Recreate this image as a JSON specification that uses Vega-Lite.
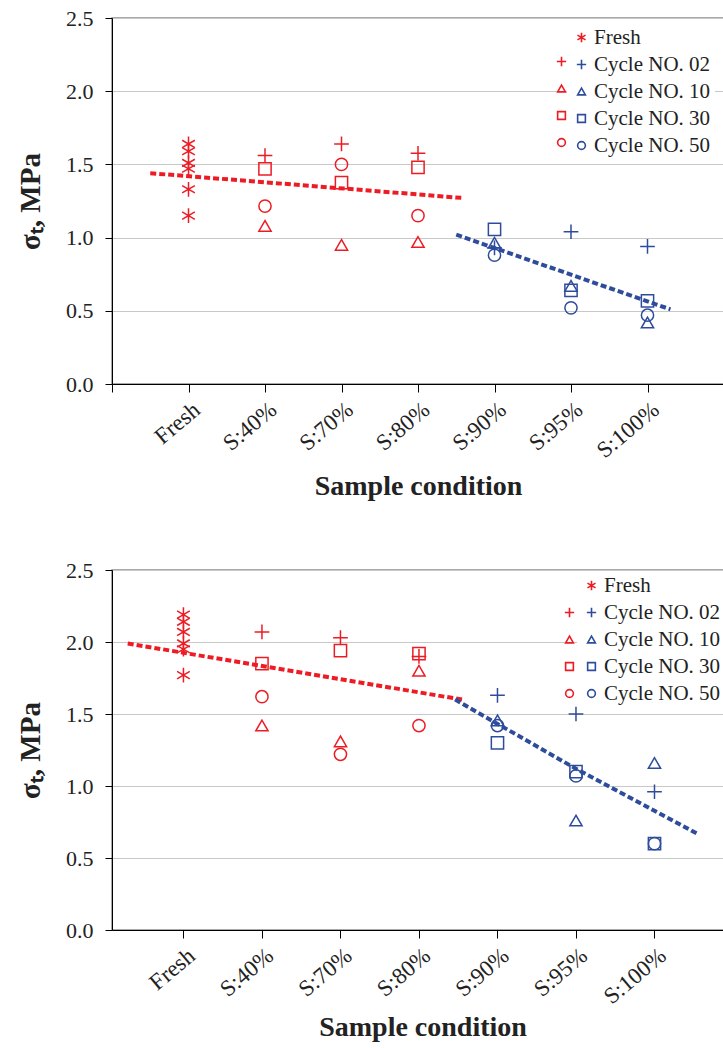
{
  "$schema": "https://vega.github.io/schema/vega-lite/v6.json",
  "padding": {"left": 15, "top": 6, "right": 0, "bottom": 0},
  "datasets": {
    "pts": [
      {"chart": "tuffeau", "group": "red", "idx": 1, "series": "Fresh", "value": 1.64},
      {"chart": "tuffeau", "group": "red", "idx": 1, "series": "Fresh", "value": 1.59},
      {"chart": "tuffeau", "group": "red", "idx": 1, "series": "Fresh", "value": 1.51},
      {"chart": "tuffeau", "group": "red", "idx": 1, "series": "Fresh", "value": 1.47},
      {"chart": "tuffeau", "group": "red", "idx": 1, "series": "Fresh", "value": 1.33},
      {"chart": "tuffeau", "group": "red", "idx": 1, "series": "Fresh", "value": 1.15},
      {"chart": "tuffeau", "group": "red", "idx": 2, "series": "Cycle NO. 02", "value": 1.56},
      {"chart": "tuffeau", "group": "red", "idx": 2, "series": "Cycle NO. 10", "value": 1.08},
      {"chart": "tuffeau", "group": "red", "idx": 2, "series": "Cycle NO. 30", "value": 1.47},
      {"chart": "tuffeau", "group": "red", "idx": 2, "series": "Cycle NO. 50", "value": 1.215},
      {"chart": "tuffeau", "group": "red", "idx": 3, "series": "Cycle NO. 02", "value": 1.64},
      {"chart": "tuffeau", "group": "red", "idx": 3, "series": "Cycle NO. 10", "value": 0.95},
      {"chart": "tuffeau", "group": "red", "idx": 3, "series": "Cycle NO. 30", "value": 1.375},
      {"chart": "tuffeau", "group": "red", "idx": 3, "series": "Cycle NO. 50", "value": 1.5},
      {"chart": "tuffeau", "group": "red", "idx": 4, "series": "Cycle NO. 02", "value": 1.576},
      {"chart": "tuffeau", "group": "red", "idx": 4, "series": "Cycle NO. 10", "value": 0.97},
      {"chart": "tuffeau", "group": "red", "idx": 4, "series": "Cycle NO. 30", "value": 1.48},
      {"chart": "tuffeau", "group": "red", "idx": 4, "series": "Cycle NO. 50", "value": 1.15},
      {"chart": "tuffeau", "group": "blue", "idx": 5, "series": "Cycle NO. 02", "value": 0.93},
      {"chart": "tuffeau", "group": "blue", "idx": 5, "series": "Cycle NO. 10", "value": 0.965},
      {"chart": "tuffeau", "group": "blue", "idx": 5, "series": "Cycle NO. 30", "value": 1.057},
      {"chart": "tuffeau", "group": "blue", "idx": 5, "series": "Cycle NO. 50", "value": 0.88},
      {"chart": "tuffeau", "group": "blue", "idx": 6, "series": "Cycle NO. 02", "value": 1.04},
      {"chart": "tuffeau", "group": "blue", "idx": 6, "series": "Cycle NO. 10", "value": 0.67},
      {"chart": "tuffeau", "group": "blue", "idx": 6, "series": "Cycle NO. 30", "value": 0.64},
      {"chart": "tuffeau", "group": "blue", "idx": 6, "series": "Cycle NO. 50", "value": 0.52},
      {"chart": "tuffeau", "group": "blue", "idx": 7, "series": "Cycle NO. 02", "value": 0.94},
      {"chart": "tuffeau", "group": "blue", "idx": 7, "series": "Cycle NO. 10", "value": 0.42},
      {"chart": "tuffeau", "group": "blue", "idx": 7, "series": "Cycle NO. 30", "value": 0.567},
      {"chart": "tuffeau", "group": "blue", "idx": 7, "series": "Cycle NO. 50", "value": 0.47},
      {"chart": "Richemon", "group": "red", "idx": 1, "series": "Fresh", "value": 2.19},
      {"chart": "Richemon", "group": "red", "idx": 1, "series": "Fresh", "value": 2.14},
      {"chart": "Richemon", "group": "red", "idx": 1, "series": "Fresh", "value": 2.07},
      {"chart": "Richemon", "group": "red", "idx": 1, "series": "Fresh", "value": 1.99},
      {"chart": "Richemon", "group": "red", "idx": 1, "series": "Fresh", "value": 1.95},
      {"chart": "Richemon", "group": "red", "idx": 1, "series": "Fresh", "value": 1.77},
      {"chart": "Richemon", "group": "red", "idx": 2, "series": "Cycle NO. 02", "value": 2.07},
      {"chart": "Richemon", "group": "red", "idx": 2, "series": "Cycle NO. 10", "value": 1.42},
      {"chart": "Richemon", "group": "red", "idx": 2, "series": "Cycle NO. 30", "value": 1.85},
      {"chart": "Richemon", "group": "red", "idx": 2, "series": "Cycle NO. 50", "value": 1.62},
      {"chart": "Richemon", "group": "red", "idx": 3, "series": "Cycle NO. 02", "value": 2.03},
      {"chart": "Richemon", "group": "red", "idx": 3, "series": "Cycle NO. 10", "value": 1.31},
      {"chart": "Richemon", "group": "red", "idx": 3, "series": "Cycle NO. 30", "value": 1.94},
      {"chart": "Richemon", "group": "red", "idx": 3, "series": "Cycle NO. 50", "value": 1.22},
      {"chart": "Richemon", "group": "red", "idx": 4, "series": "Cycle NO. 02", "value": 1.9},
      {"chart": "Richemon", "group": "red", "idx": 4, "series": "Cycle NO. 10", "value": 1.8},
      {"chart": "Richemon", "group": "red", "idx": 4, "series": "Cycle NO. 30", "value": 1.92},
      {"chart": "Richemon", "group": "red", "idx": 4, "series": "Cycle NO. 50", "value": 1.42},
      {"chart": "Richemon", "group": "blue", "idx": 5, "series": "Cycle NO. 02", "value": 1.63},
      {"chart": "Richemon", "group": "blue", "idx": 5, "series": "Cycle NO. 10", "value": 1.456},
      {"chart": "Richemon", "group": "blue", "idx": 5, "series": "Cycle NO. 30", "value": 1.3},
      {"chart": "Richemon", "group": "blue", "idx": 5, "series": "Cycle NO. 50", "value": 1.42},
      {"chart": "Richemon", "group": "blue", "idx": 6, "series": "Cycle NO. 02", "value": 1.5},
      {"chart": "Richemon", "group": "blue", "idx": 6, "series": "Cycle NO. 10", "value": 0.76},
      {"chart": "Richemon", "group": "blue", "idx": 6, "series": "Cycle NO. 30", "value": 1.1},
      {"chart": "Richemon", "group": "blue", "idx": 6, "series": "Cycle NO. 50", "value": 1.07},
      {"chart": "Richemon", "group": "blue", "idx": 7, "series": "Cycle NO. 02", "value": 0.96},
      {"chart": "Richemon", "group": "blue", "idx": 7, "series": "Cycle NO. 10", "value": 1.16},
      {"chart": "Richemon", "group": "blue", "idx": 7, "series": "Cycle NO. 30", "value": 0.6},
      {"chart": "Richemon", "group": "blue", "idx": 7, "series": "Cycle NO. 50", "value": 0.6}
    ],
    "trend": [
      {"chart": "tuffeau", "group": "red", "idx": 0.5, "value": 1.44},
      {"chart": "tuffeau", "group": "red", "idx": 4.6, "value": 1.27},
      {"chart": "tuffeau", "group": "blue", "idx": 4.5, "value": 1.02},
      {"chart": "tuffeau", "group": "blue", "idx": 7.3, "value": 0.51},
      {"chart": "Richemon", "group": "red", "idx": 0.29, "value": 1.99},
      {"chart": "Richemon", "group": "red", "idx": 4.55, "value": 1.6},
      {"chart": "Richemon", "group": "blue", "idx": 4.46, "value": 1.6},
      {"chart": "Richemon", "group": "blue", "idx": 6.0, "value": 1.12},
      {"chart": "Richemon", "group": "blue", "idx": 7.54, "value": 0.67}
    ],
    "labels": [
      {"chart": "tuffeau", "name": "tuffeau"},
      {"chart": "Richemon", "name": "Richemon"}
    ]
  },
  "config": {
    "font": "Liberation Serif",
    "view": {"stroke": "#8c8c8c", "strokeWidth": 1.5},
    "axis": {"domainColor": "#000000", "tickColor": "#000000", "labelColor": "#222222", "titleColor": "#222222", "gridColor": "#c8c8c8", "labelFont": "Liberation Serif", "titleFont": "Liberation Serif"},
    "legend": {"labelFont": "Liberation Serif", "labelFontSize": 21, "labelColor": "#222222", "symbolSize": 60, "symbolStrokeWidth": 1.6}
  },
  "spacing": 56,
  "vconcat": [
    {
      "width": 612,
      "height": 366,
      "encoding": {
        "x": {"field": "idx", "type": "quantitative", "scale": {"domain": [0, 8], "nice": false, "zero": false},
          "axis": {"values": [0, 1, 2, 3, 4, 5, 6, 7, 8], "grid": false, "title": "Sample condition", "titleFontSize": 28, "titleFontWeight": "bold", "titlePadding": 10, "labelFontSize": 23, "labelAngle": -40, "labelAlign": "right", "labelBaseline": "top", "labelOffset": 1, "labelPadding": 6, "tickSize": 8, "labelExpr": "['', 'Fresh', 'S:40%', 'S:70%', 'S:80%', 'S:90%', 'S:95%', 'S:100%', ''][datum.value]"}},
        "y": {"field": "value", "type": "quantitative", "scale": {"domain": [0, 2.5], "nice": false},
          "axis": {"values": [0, 0.5, 1, 1.5, 2, 2.5], "format": ".1f", "title": "σₜ, MPa", "titleFontSize": 29, "titleFontWeight": "bold", "titlePadding": 20, "labelFontSize": 22, "labelPadding": 12, "tickSize": 7}}
      },
      "layer": [
        {"data": {"name": "trend"}, "transform": [{"filter": "datum.chart === 'tuffeau' && datum.group === 'red'"}],
          "mark": {"type": "line", "color": "#ED1C24", "strokeWidth": 4, "strokeDash": [6, 3]}},
        {"data": {"name": "trend"}, "transform": [{"filter": "datum.chart === 'tuffeau' && datum.group === 'blue'"}],
          "mark": {"type": "line", "color": "#2E4C9C", "strokeWidth": 4, "strokeDash": [6, 3]}},
        {"data": {"name": "pts"}, "transform": [{"filter": "datum.chart === 'tuffeau' && datum.group === 'blue'"}],
          "mark": {"type": "point", "filled": false, "size": 150, "strokeWidth": 1.5, "opacity": 1},
          "encoding": {
            "color": {"field": "series", "type": "nominal",
              "scale": {"domain": ["Fresh", "Cycle NO. 02", "Cycle NO. 10", "Cycle NO. 30", "Cycle NO. 50"], "range": ["#ED1C24", "#2E4C9C", "#2E4C9C", "#2E4C9C", "#2E4C9C"]},
              "legend": {"title": null, "orient": "none", "legendX": 455, "legendY": 5, "padding": 4, "fillColor": "white", "rowPadding": 5, "labelOffset": 2}},
            "shape": {"field": "series", "type": "nominal",
              "scale": {"domain": ["Fresh", "Cycle NO. 02", "Cycle NO. 10", "Cycle NO. 30", "Cycle NO. 50"], "range": ["M0,-1.2V1.2M-1.04,-0.6L1.04,0.6M-1.04,0.6L1.04,-0.6", "M-1.2,0H1.2M0,-1.2V1.2", "triangle-up", "square", "circle"]},
              "legend": {"title": null, "orient": "none", "legendX": 455, "legendY": 5, "padding": 4, "fillColor": "white", "rowPadding": 5, "labelOffset": 2}}}},
        {"data": {"name": "pts"}, "transform": [{"filter": "datum.chart === 'tuffeau' && datum.group === 'red'"}],
          "mark": {"type": "point", "filled": false, "color": "#ED1C24", "size": 150, "strokeWidth": 1.5, "opacity": 1},
          "encoding": {"shape": {"field": "series", "type": "nominal",
            "scale": {"domain": ["Cycle NO. 02", "Cycle NO. 10", "Cycle NO. 30", "Cycle NO. 50", "Fresh"], "range": ["M-1.2,0H1.2M0,-1.2V1.2", "triangle-up", "square", "circle", "M0,-1.2V1.2M-1.04,-0.6L1.04,0.6M-1.04,0.6L1.04,-0.6"]},
            "legend": {"title": null, "orient": "none", "legendX": 439, "legendY": 33, "padding": 0, "rowPadding": 5, "labelExpr": "''", "values": ["Cycle NO. 02", "Cycle NO. 10", "Cycle NO. 30", "Cycle NO. 50"]}}}},
        {"data": {"name": "labels"}, "transform": [{"filter": "datum.chart === 'tuffeau'"}],
          "mark": {"type": "text", "fontSize": 24, "color": "#222222", "font": "Liberation Serif"},
          "encoding": {"text": {"field": "name"}, "x": {"datum": 3.84}, "y": {"datum": 2.32}}}
      ],
      "resolve": {"scale": {"shape": "independent", "color": "independent"}}
    },
    {
      "width": 621,
      "height": 360,
      "encoding": {
        "x": {"field": "idx", "type": "quantitative", "scale": {"domain": [0.09, 8], "nice": false, "zero": false},
          "axis": {"values": [1, 2, 3, 4, 5, 6, 7], "grid": false, "title": "Sample condition", "titleFontSize": 28, "titleFontWeight": "bold", "titlePadding": 5, "labelFontSize": 23, "labelAngle": -40, "labelAlign": "right", "labelBaseline": "top", "labelOffset": 1, "labelPadding": 6, "tickSize": 8, "labelExpr": "['', 'Fresh', 'S:40%', 'S:70%', 'S:80%', 'S:90%', 'S:95%', 'S:100%', ''][datum.value]"}},
        "y": {"field": "value", "type": "quantitative", "scale": {"domain": [0, 2.5], "nice": false},
          "axis": {"values": [0, 0.5, 1, 1.5, 2, 2.5], "format": ".1f", "title": "σₜ, MPa", "titleFontSize": 29, "titleFontWeight": "bold", "titlePadding": 20, "labelFontSize": 22, "labelPadding": 12, "tickSize": 7}}
      },
      "layer": [
        {"data": {"name": "trend"}, "transform": [{"filter": "datum.chart === 'Richemon' && datum.group === 'red'"}],
          "mark": {"type": "line", "color": "#ED1C24", "strokeWidth": 4, "strokeDash": [6, 3]}},
        {"data": {"name": "trend"}, "transform": [{"filter": "datum.chart === 'Richemon' && datum.group === 'blue'"}],
          "mark": {"type": "line", "color": "#2E4C9C", "strokeWidth": 4, "strokeDash": [6, 3]}},
        {"data": {"name": "pts"}, "transform": [{"filter": "datum.chart === 'Richemon' && datum.group === 'blue'"}],
          "mark": {"type": "point", "filled": false, "size": 150, "strokeWidth": 1.5, "opacity": 1},
          "encoding": {
            "color": {"field": "series", "type": "nominal",
              "scale": {"domain": ["Fresh", "Cycle NO. 02", "Cycle NO. 10", "Cycle NO. 30", "Cycle NO. 50"], "range": ["#ED1C24", "#2E4C9C", "#2E4C9C", "#2E4C9C", "#2E4C9C"]},
              "legend": {"title": null, "orient": "none", "legendX": 465, "legendY": 1, "padding": 4, "fillColor": "white", "rowPadding": 5, "labelOffset": 2}},
            "shape": {"field": "series", "type": "nominal",
              "scale": {"domain": ["Fresh", "Cycle NO. 02", "Cycle NO. 10", "Cycle NO. 30", "Cycle NO. 50"], "range": ["M0,-1.2V1.2M-1.04,-0.6L1.04,0.6M-1.04,0.6L1.04,-0.6", "M-1.2,0H1.2M0,-1.2V1.2", "triangle-up", "square", "circle"]},
              "legend": {"title": null, "orient": "none", "legendX": 465, "legendY": 1, "padding": 4, "fillColor": "white", "rowPadding": 5, "labelOffset": 2}}}},
        {"data": {"name": "pts"}, "transform": [{"filter": "datum.chart === 'Richemon' && datum.group === 'red'"}],
          "mark": {"type": "point", "filled": false, "color": "#ED1C24", "size": 150, "strokeWidth": 1.5, "opacity": 1},
          "encoding": {"shape": {"field": "series", "type": "nominal",
            "scale": {"domain": ["Cycle NO. 02", "Cycle NO. 10", "Cycle NO. 30", "Cycle NO. 50", "Fresh"], "range": ["M-1.2,0H1.2M0,-1.2V1.2", "triangle-up", "square", "circle", "M0,-1.2V1.2M-1.04,-0.6L1.04,0.6M-1.04,0.6L1.04,-0.6"]},
            "legend": {"title": null, "orient": "none", "legendX": 447, "legendY": 32, "padding": 0, "rowPadding": 5, "labelExpr": "''", "values": ["Cycle NO. 02", "Cycle NO. 10", "Cycle NO. 30", "Cycle NO. 50"]}}}},
        {"data": {"name": "labels"}, "transform": [{"filter": "datum.chart === 'Richemon'"}],
          "mark": {"type": "text", "fontSize": 24, "color": "#222222", "font": "Liberation Serif"},
          "encoding": {"text": {"field": "name"}, "x": {"datum": 4.55}, "y": {"datum": 2.28}}}
      ],
      "resolve": {"scale": {"shape": "independent", "color": "independent"}}
    }
  ]
}
